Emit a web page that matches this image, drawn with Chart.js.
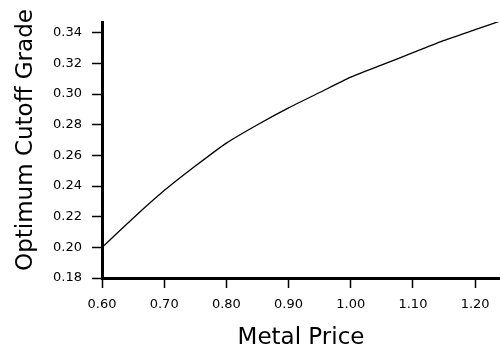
<!DOCTYPE html>
<html>
<head>
<meta charset="utf-8">
<script src="https://cdn.jsdelivr.net/npm/chart.js@4"></script>
<style>
  html, body { margin: 0; padding: 0; background: #fff; }
  #wrap { width: 500px; height: 350px; }
</style>
</head>
<body>
<div id="wrap"><canvas id="gradeChart" width="500" height="350"></canvas></div>
<script>
// values
var metalPrice = [0.60, 0.65, 0.70, 0.75, 0.80, 0.85, 0.90, 0.95, 1.00, 1.05, 1.10, 1.15, 1.20, 1.25];
var cutoffGrade = [0.200, 0.219, 0.237, 0.253, 0.268, 0.280, 0.291, 0.301, 0.311, 0.319, 0.327, 0.335, 0.342, 0.349];
var xTicks = [0.60, 0.70, 0.80, 0.90, 1.00, 1.10, 1.20];
var yTicks = [0.18, 0.20, 0.22, 0.24, 0.26, 0.28, 0.30, 0.32, 0.34];
var xTitle = 'Metal Price';
var yTitle = 'Optimum Cutoff Grade';

var fontName = "'DejaVu Sans', sans-serif";

// y axis title, drawn a bit above the middle of the axis like the original
var yTitlePlugin = {
    id: 'yTitle',
    afterDraw: function(chart) {
        var c = chart.ctx;
        c.save();
        c.translate(26, 140);
        c.rotate(-Math.PI / 2);
        c.fillStyle = '#000';
        c.font = '23px ' + fontName;
        c.textAlign = 'center';
        c.textBaseline = 'middle';
        c.fillText(yTitle, 0, 0);
        c.restore();
    }
};

document.addEventListener('DOMContentLoaded', function() {
    var points = metalPrice.map(function(p, i) { return { x: p, y: cutoffGrade[i] }; });
    var ctx = document.getElementById('gradeChart').getContext('2d');
    var chart = new Chart(ctx, {
        type: 'line',
        data: {
            datasets: [{
                data: points,
                borderColor: '#000',
                borderWidth: 1.3,
                pointRadius: 0,
                fill: false,
                tension: 0.2
            }]
        },
        options: {
            responsive: false,
            animation: false,
            layout: { padding: { top: 22, right: 0, left: 0, bottom: 0 } },
            plugins: { legend: { display: false }, tooltip: { enabled: false } },
            scales: {
                x: {
                    type: 'linear',
                    min: 0.60,
                    max: 1.24,
                    afterBuildTicks: function(s) { s.ticks = xTicks.map(function(v) { return { value: v }; }); },
                    afterFit: function(s) { s.height = 72; },
                    border: { display: true, color: '#000', width: 3 },
                    grid: { drawOnChartArea: false, drawTicks: true, tickLength: 10, tickWidth: 1.5, tickColor: '#000' },
                    ticks: {
                        color: '#000', padding: 9, maxRotation: 0, autoSkip: false,
                        font: { family: fontName, size: 13 },
                        callback: function(v) { return v.toFixed(2); }
                    },
                    title: { display: true, text: xTitle, color: '#000', font: { family: fontName, size: 23, lineHeight: 1.0 }, padding: { top: 4, bottom: 0 } }
                },
                y: {
                    min: 0.18,
                    max: 0.347,
                    afterBuildTicks: function(s) { s.ticks = yTicks.map(function(v) { return { value: v }; }); },
                    afterFit: function(s) { s.width = 102; },
                    border: { display: true, color: '#000', width: 3 },
                    grid: { drawOnChartArea: false, drawTicks: true, tickLength: 10, tickWidth: 1.5, tickColor: '#000' },
                    ticks: {
                        color: '#000', padding: 10, autoSkip: false,
                        font: { family: fontName, size: 13 },
                        callback: function(v) { return v.toFixed(2); }
                    }
                }
            }
        },
        plugins: [yTitlePlugin]
    });
});
</script>
</body>
</html>
